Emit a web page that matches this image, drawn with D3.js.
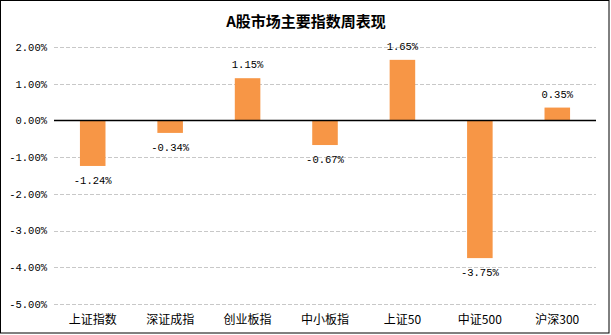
<!DOCTYPE html>
<html><head><meta charset="utf-8">
<script src="https://cdn.jsdelivr.net/npm/d3@7"></script>
<style>body{margin:0;background:#fff}svg{display:block}</style>
</head><body>
<svg id="c" width="611" height="335"></svg>
<script>
const categories = ["上证指数","深证成指","创业板指","中小板指","上证50","中证500","沪深300"];
const values = [-1.24, -0.34, 1.15, -0.67, 1.65, -3.75, 0.35];
const yTicks = [2, 1, 0, -1, -2, -3, -4, -5];
const title = "A股市场主要指数周表现";

const W = 611, H = 335;
const m = {left: 54, right: 15, top: 47, bottom: 31};
const svg = d3.select("#c");
svg.append("rect").attr("x",0.5).attr("y",0.5).attr("width",W-2.5).attr("height",H-2.5)
  .attr("fill","#fff").attr("stroke","#000").attr("stroke-width",1);

svg.append("text").attr("x",306).attr("y",27).attr("text-anchor","middle")
  .attr("font-family","'Noto Sans CJK SC'").attr("font-weight","bold").attr("font-size",15)
  .text(title);

const x = d3.scaleBand().domain(categories).range([m.left, W - m.right]).paddingInner(0.67).paddingOuter(0.335);
const y = d3.scaleLinear().domain([-5, 2]).range([304, 47]);

const fmt = d => d.toFixed(2) + "%";
const fontNum = "'Liberation Mono', monospace";

// gridlines
svg.append("g").selectAll("line").data(yTicks.filter(d=>d!==0)).join("line")
  .attr("x1", m.left).attr("x2", W - m.right)
  .attr("y1", d=>Math.round(y(d))+0.5).attr("y2", d=>Math.round(y(d))+0.5)
  .attr("stroke","#c8c8c8").attr("stroke-dasharray","4,2");

// y axis labels
const ya = svg.append("g").attr("transform",`translate(${m.left-7},0)`)
  .call(d3.axisLeft(y).tickValues(yTicks).tickFormat(fmt).tickSize(0).tickPadding(0));
ya.select(".domain").remove();
ya.selectAll("text").attr("font-family",fontNum).attr("font-size",10.5).attr("fill","#000");

// bars
svg.append("g").selectAll("rect").data(values).join("rect")
  .attr("x",(d,i)=>x(categories[i]))
  .attr("width",x.bandwidth())
  .attr("y",d=>y(Math.max(0,d)))
  .attr("height",d=>Math.abs(y(d)-y(0)))
  .attr("fill","#f79646");

// zero line
svg.append("line").attr("x1",m.left).attr("x2",W-m.right)
  .attr("y1",Math.round(y(0))+0.5).attr("y2",Math.round(y(0))+0.5)
  .attr("stroke","#000").attr("stroke-width",1.3);

// data labels
svg.append("g").selectAll("text").data(values).join("text")
  .attr("x",(d,i)=>x(categories[i])+x.bandwidth()/2)
  .attr("y",d=> d>=0 ? y(d)-10 : y(d)+18)
  .attr("text-anchor","middle")
  .attr("font-family",fontNum).attr("font-size",10.5)
  .text(fmt);

// x labels
svg.append("g").selectAll("text").data(categories).join("text")
  .attr("x",d=>x(d)+x.bandwidth()/2).attr("y",324)
  .attr("text-anchor","middle")
  .attr("font-family","'Noto Sans CJK SC'").attr("font-size",12)
  .text(d=>d);
</script>
</body></html>
